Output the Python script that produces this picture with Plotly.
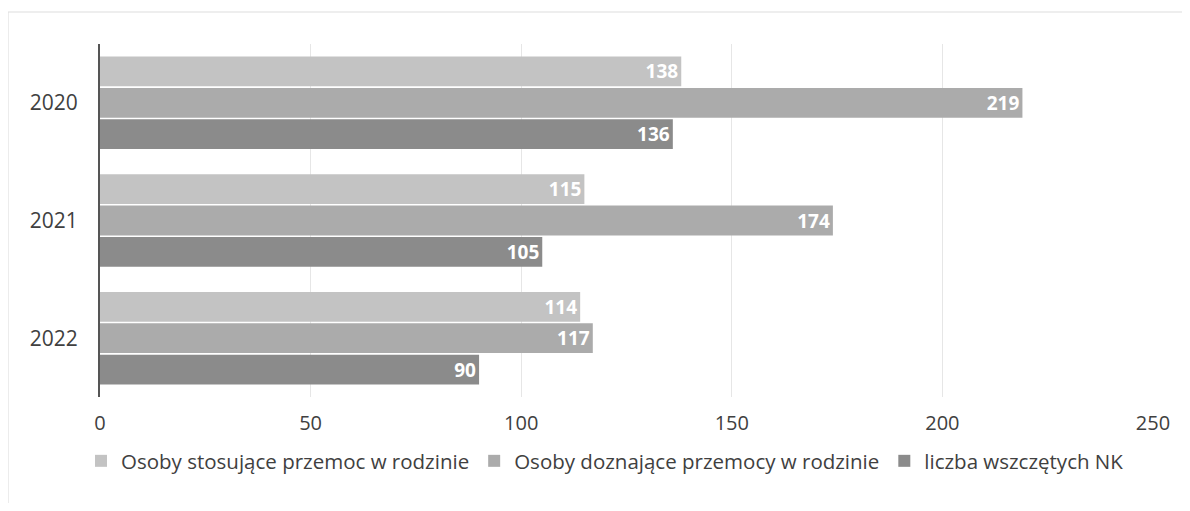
import plotly.graph_objects as go

years = ["2020", "2021", "2022"]
series_names = [
    "Osoby stosujące przemoc w rodzinie",
    "Osoby doznające przemocy w rodzinie",
    "liczba wszczętych NK",
]
stosujace = [138, 115, 114]
doznajace = [219, 174, 117]
nk = [136, 105, 90]
colors = ["#c3c3c3", "#ababab", "#8b8b8b"]

fig = go.Figure()
for name, vals, col in zip(series_names, [stosujace, doznajace, nk], colors):
    fig.add_trace(go.Bar(
        y=years, x=vals, orientation="h", name=name,
        marker=dict(color=col, line=dict(width=0)),
        text=[str(v) for v in vals], textposition="inside",
        insidetextanchor="end", textangle=0, constraintext="none",
        textfont=dict(family="Open Sans", size=19, color="white", weight="bold"),
        cliponaxis=False,
    ))

# page body has an 8px margin; figure sits at (8, 8)
OFF = 8
W, H = 1174, 495
L, R = 100 - OFF, 29
T, B = 44 - OFF, (H + OFF) - 397
pw, ph = W - L - R, H - T - B
def px2paper_x(px): return (px - OFF - L) / pw
def px2paper_y(py): return 1 - (py - OFF - T) / ph

fig.update_layout(
    width=W, height=H,
    margin=dict(l=L, r=R, t=T, b=B),
    paper_bgcolor="white", plot_bgcolor="white",
    barmode="group", bargap=0.2, bargroupgap=0.05,
    font=dict(family="Open Sans", color="#404040"),
    xaxis=dict(range=[0, 250], tickvals=[0, 50, 100, 150, 200, 250],
               showgrid=True, gridcolor="#e6e6e6", gridwidth=1,
               zeroline=False, showline=False, ticks="",
               tickfont=dict(size=20, color="#404040"),
               ticklabelstandoff=12),
    yaxis=dict(autorange="reversed", showline=True, linecolor="#555555",
               linewidth=2, ticks="", showgrid=False,
               tickfont=dict(size=21, color="#404040"),
               ticklabelstandoff=16),
    legend=dict(orientation="h", x=px2paper_x(605), xanchor="center",
                y=px2paper_y(461), yanchor="middle",
                font=dict(size=20.5, color="#404040"),
                itemwidth=30, traceorder="normal"),
    showlegend=True,
    shapes=[
        dict(type="line", xref="paper", yref="paper",
             x0=px2paper_x(8), x1=px2paper_x(8), y0=px2paper_y(12), y1=px2paper_y(511),
             line=dict(color="#d9d9d9", width=1)),
        dict(type="line", xref="paper", yref="paper",
             x0=px2paper_x(8), x1=px2paper_x(1190), y0=px2paper_y(12), y1=px2paper_y(12),
             line=dict(color="#dddddd", width=1)),
    ],
)

fig.write_html("out.html")
